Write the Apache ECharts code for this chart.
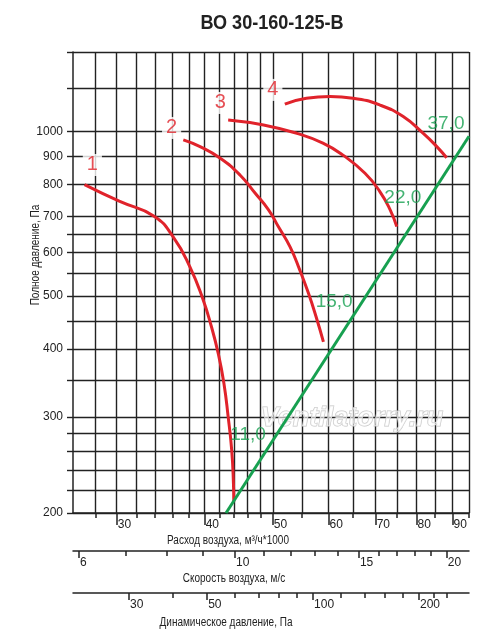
<!DOCTYPE html>
<html>
<head>
<meta charset="utf-8">
<script src="https://cdn.jsdelivr.net/npm/echarts@6/dist/echarts.min.js"></script>
<style>
  html, body { margin: 0; padding: 0; background: #fff; }
  #chart { width: 500px; height: 639px; }
</style>
</head>
<body>
<div id="chart"></div>
<script>
// оси
const flowRange = [26, 95]
const flowTicks = [28, 30, 32, 34, 36, 38, 40, 42, 44, 46, 48, 50, 55, 60, 65, 70, 75, 80, 85, 90, 95]
const flowLabels = [30, 40, 50, 60, 70, 80, 90]
const pressureRange = [200, 1400]
const pressureTicks = [200, 220, 240, 260, 280, 300, 350, 400, 450, 500, 550, 600, 650, 700, 800, 900, 1000, 1200, 1400]
const pressureLabels = [200, 300, 400, 500, 600, 700, 800, 900, 1000]
const speedTicks = [7, 8, 9, 11, 12, 13, 14, 16, 17, 18, 19]
const speedLabels = [6, 10, 15, 20]
const dynTicks = [40, 60, 70, 80, 90, 120, 140, 160, 180, 220, 240]
const dynLabels = [30, 50, 100, 200]

// скорость 10 м/с при расходе 44,2 тыс. м3/ч, плотность воздуха 1,2
const speedPerFlow = 10 / 44.18
const airDensity = 1.2
const speedRange = flowRange.map(q => q * speedPerFlow)
const dynRange = speedRange.map(v => airDensity / 2 * v * v)

// характеристики
const curve1 = [[27.0, 800], [30.3, 745], [33.9, 700], [36.1, 641], [38.1, 566], [39.8, 492], [40.9, 439],
  [41.8, 393], [42.6, 346], [43.2, 300], [43.7, 261], [43.95, 227], [44.0, 210]]
const curve2 = [[37.3, 966], [39.4, 939], [42.1, 894], [44.9, 833], [47.2, 771], [49.3, 719], [50.9, 670],
  [52.9, 615], [54.6, 558], [56.2, 505], [57.6, 458], [59.0, 412]]
const curve3 = [[43.2, 1051], [48.5, 1029], [54.1, 993], [58.9, 953], [62.9, 906], [67.6, 839], [71.0, 776],
  [73.4, 719], [75.0, 670]]
const curve4 = [[52.0, 1123], [55.8, 1152], [60.3, 1160], [65.0, 1152], [71.0, 1119], [76.6, 1066],
  [81.8, 993], [85.5, 939], [88.3, 896]]
const networkLine = [[42.9, 200], [95, 981]]

const curveNames = ['1', '2', '3', '4']
const curveNamePoints = [[27.7, 869], [35.9, 1016], [42.1, 1129], [50.0, 1193]]
const speedMarks = ['11,0', '15,0', '22,0', '37,0']
const speedMarkPoints = [[46.1, 278], [61.1, 487], [76.5, 756], [88.1, 1033]]

const font = '"Liberation Sans", Arial, sans-serif'
const ink = '#222'
const red = '#e0232b'
const green = '#17a050'

var myChart = echarts.init(document.getElementById('chart'))

function plain(v) {
  return String(Math.round(v))
}

function redCurve(data) {
  return {
    type: 'line',
    xAxisIndex: 0,
    yAxisIndex: 0,
    data: data,
    smooth: 0.5,
    symbol: 'none',
    lineStyle: { color: red, width: 3 },
    z: 5
  }
}

function scaleAxis(gridIndex, range, ticks, tickLen) {
  return {
    type: 'log', logBase: 10, gridIndex: gridIndex, position: 'bottom',
    min: range[0], max: range[1],
    axisLine: { show: true, lineStyle: { color: ink, width: 1.5 } },
    axisTick: { show: true, customValues: ticks, length: tickLen, lineStyle: { color: ink, width: 1.5 } },
    axisLabel: { show: false },
    splitLine: { show: false }
  }
}

function labelAxis(gridIndex, range, labels, tickLen) {
  return {
    type: 'log', logBase: 10, gridIndex: gridIndex, position: 'bottom',
    min: range[0], max: range[1],
    axisLine: { show: false },
    axisTick: { show: true, customValues: labels, length: tickLen, lineStyle: { color: ink, width: 1.5 } },
    axisLabel: {
      show: true, customValues: labels, formatter: plain, align: 'left', margin: 6, padding: [0, 0, 0, 1],
      color: ink, fontSize: 12, fontFamily: font
    },
    splitLine: { show: false }
  }
}

function axisName(text, x, y, rotation) {
  return {
    type: 'text', x: x, y: y, rotation: rotation || 0, scaleX: 0.8,
    style: { text: text, fontSize: 12.5, fontFamily: font, fill: ink, align: 'center', verticalAlign: 'middle' }
  }
}

var flowAxis = scaleAxis(0, flowRange, flowTicks, 5)
flowAxis.splitLine = { show: true, lineStyle: { color: ink, width: 1.4 } }

myChart.setOption({
  animation: false,
  grid: [
    { left: 73, right: 31, top: 52, bottom: 126 },
    { left: 73, right: 31, top: 541, height: 10 },
    { left: 73, right: 31, top: 583, height: 10 }
  ],
  xAxis: [
    flowAxis,
    labelAxis(0, flowRange, flowLabels, 12),
    scaleAxis(1, speedRange, speedTicks, 5),
    labelAxis(1, speedRange, speedLabels, 7),
    scaleAxis(2, dynRange, dynTicks, 5),
    labelAxis(2, dynRange, dynLabels, 7)
  ],
  yAxis: [
    {
      type: 'log', logBase: 10, gridIndex: 0,
      min: pressureRange[0], max: pressureRange[1],
      axisLine: { show: true, lineStyle: { color: ink, width: 1.5 } },
      axisTick: { show: true, customValues: pressureTicks, length: 6, lineStyle: { color: ink, width: 1.4 } },
      axisLabel: { customValues: pressureLabels, formatter: plain, margin: 10, color: ink, fontSize: 12, fontFamily: font },
      splitLine: { show: true, lineStyle: { color: ink, width: 1.4 } }
    },
    { type: 'value', gridIndex: 1, show: false, min: 0, max: 1 },
    { type: 'value', gridIndex: 2, show: false, min: 0, max: 1 }
  ],
  series: [
    redCurve(curve1),
    redCurve(curve2),
    redCurve(curve3),
    redCurve(curve4),
    {
      type: 'line',
      data: networkLine,
      symbol: 'none',
      lineStyle: { color: green, width: 3 },
      z: 6
    },
    {
      type: 'scatter',
      data: curveNames.map((n, i) => ({ name: n, value: curveNamePoints[i] })),
      symbolSize: 1,
      itemStyle: { color: 'rgba(0,0,0,0)' },
      label: {
        show: true, position: 'inside', formatter: '{b}',
        color: red, fontSize: 20, fontFamily: font,
        backgroundColor: '#fff', padding: [1, 4]
      },
      z: 7
    },
    {
      type: 'scatter',
      data: speedMarks.map((n, i) => ({ name: n, value: speedMarkPoints[i] })),
      symbolSize: 1,
      itemStyle: { color: 'rgba(0,0,0,0)' },
      label: {
        show: true, position: 'inside', formatter: '{b}',
        color: green, fontSize: 19, fontFamily: font
      },
      z: 7
    }
  ],
  graphic: [
    {
      type: 'text', x: 272, y: 23, scaleX: 0.86,
      style: {
        text: 'ВО 30-160-125-В', fontSize: 21, fontWeight: 'bold', fontFamily: font, fill: ink,
        align: 'center', verticalAlign: 'middle'
      }
    },
    axisName('Полное давление, Па', 36, 255, Math.PI / 2),
    axisName('Расход воздуха, м³/ч*1000', 228, 541),
    axisName('Скорость воздуха, м/с', 234, 579),
    axisName('Динамическое давление, Па', 226, 623),
    {
      type: 'text', x: 352, y: 419, z: 3,
      style: {
        text: 'Ventilatorry.ru', fontSize: 27, fontStyle: 'italic', fontWeight: 'bold', fontFamily: font,
        fill: 'rgba(255,255,255,0.6)', stroke: '#c4c4c4', lineWidth: 1, align: 'center', verticalAlign: 'middle'
      }
    }
  ]
})
</script>
</body>
</html>
